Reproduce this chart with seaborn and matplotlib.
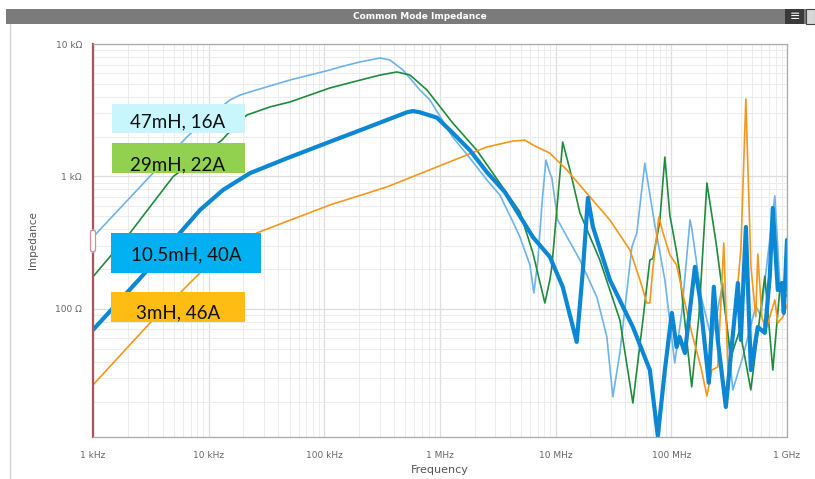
import matplotlib
matplotlib.use("Agg")
import matplotlib.pyplot as plt
import matplotlib.ticker as mticker
from matplotlib.patches import Rectangle, FancyBboxPatch
import seaborn as sns

# ── data (frequency in Hz, impedance in Ohm) ────────────────────────────────
freq_47 = [1.0e3, 2.55e3, 6.49e3, 9.86e3, 15.3e3, 18.7e3, 22.8e3, 50.4e3, 112e3, 136e3,
           203e3, 303e3, 369e3, 478e3, 670e3, 818e3, 1.29e6, 1.81e6, 2.54e6, 3.29e6,
           4.27e6, 4.91e6, 5.99e6, 6.48e6, 7.02e6, 7.60e6, 8.23e6, 8.91e6, 9.27e6, 10.4e6,
           16.2e6, 22.7e6, 27.7e6, 31.2e6, 35.9e6, 45.6e6, 50.3e6, 59.0e6, 72.0e6, 87.9e6,
           107e6, 123e6, 145e6, 150e6, 183e6, 224e6, 279e6, 340e6, 415e6, 537e6,
           594e6, 785e6, 866e6, 1.0e9]
imp_47 = [349, 834, 1990, 2770, 3780, 4120, 4350, 5350, 6370, 6700,
          7320, 7840, 7570, 6370, 4500, 3780, 1980, 1380, 942, 725,
          454, 349, 215, 132, 234, 610, 1330, 1060, 975, 470,
          234, 123, 61.5, 21.7, 46.5, 294, 375, 1260, 431, 166,
          39.1, 93.3, 470, 409, 119, 58.3, 157, 24.5, 43.4, 105,
          88.5, 713, 157, 139]

freq_29 = [1.0e3, 2.09e3, 4.94e3, 13.0e3, 16.9e3, 21.4e3, 33.9e3, 50.4e3, 112e3, 177e3,
           303e3, 424e3, 550e3, 771e3, 1.29e6, 2.08e6, 3.29e6, 4.91e6, 6.35e6, 8.07e6,
           8.91e6, 9.27e6, 11.5e6, 13.3e6, 16.2e6, 24.1e6, 35.9e6, 46.5e6, 56.8e6, 65.2e6,
           69.2e6, 79.4e6, 87.9e6, 97.1e6, 111e6, 118e6, 150e6, 173e6, 203e6, 243e6,
           296e6, 327e6, 391e6, 487e6, 643e6, 754e6, 866e6, 1.0e9]
imp_29 = [175, 375, 1000, 1880, 2410, 2910, 3350, 3650, 4660, 5170,
          5830, 6150, 5830, 4500, 2530, 1580, 890, 540, 265, 111,
          166, 208, 1820, 1120, 531, 234, 82.6, 19.5, 82.6, 234,
          240, 454, 1400, 512, 269, 190, 25.8, 87.1, 893, 321,
          87.1, 43.4, 69.5, 24.5, 177, 34.6, 139, 125]

freq_10 = [1.0e3, 2.55e3, 5.65e3, 8.41e3, 13.3e3, 22.8e3, 50.4e3, 112e3, 177e3,
           348e3, 517e3, 583e3, 670e3, 940e3, 1.29e6, 1.81e6, 2.54e6, 3.64e6, 4.71e6,
           6.35e6, 8.91e6, 11.5e6, 15.2e6, 17.2e6, 19.0e6, 21.0e6, 29.4e6, 46.5e6, 65.2e6,
           76.4e6, 87.9e6, 101e6, 111e6, 118e6, 131e6, 160e6, 176e6, 211e6, 233e6,
           252e6, 296e6, 376e6, 399e6, 441e6, 487e6, 559e6, 643e6, 710e6, 754e6,
           832e6, 902e6, 938e6, 1.0e9]
imp_10 = [69.5, 170, 375, 558, 791, 1060, 1400, 1830, 2130,
          2670, 3050, 3120, 3050, 2780, 2130, 1580, 1080, 762, 531,
          349, 247, 147, 56.4, 197, 688, 416, 166, 73.1, 34.6,
          11.0, 34.6, 93.3, 51.6, 61.5, 46.5, 208, 123, 27.7, 147,
          58.3, 18.2, 157, 58.3, 416, 34.6, 73.1, 66.0, 177, 578,
          139, 157, 93.3, 332]

freq_3 = [1.0e3, 3.11e3, 8.41e3, 15.3e3, 26.1e3, 112e3, 348e3, 940e3, 2.54e6, 4.27e6,
          5.42e6, 6.35e6, 8.91e6, 12.5e6, 19.8e6, 29.4e6, 43.8e6, 53.5e6, 61.4e6, 65.2e6,
          69.2e6, 78.0e6, 84.3e6, 97.1e6, 111e6, 123e6, 150e6, 180e6, 203e6, 224e6,
          252e6, 284e6, 308e6, 354e6, 399e6, 441e6, 487e6, 537e6, 559e6, 606e6,
          656e6, 785e6, 832e6, 920e6, 1.0e9]
imp_3 = [26.7, 78.4, 187, 271, 375, 610, 834, 1180, 1670, 1850,
         1880, 1730, 1500, 1120, 700, 470, 279, 166, 111, 111,
         201, 494, 381, 256, 215, 142, 66.0, 36.5, 22.0, 34.6,
         36.5, 315, 34.6, 87.1, 279, 3850, 211, 87.1, 260, 87.1,
         69.5, 117, 78.4, 87.1, 107]

x_ticks = [1e3, 1e4, 1e5, 1e6, 1e7, 1e8, 1e9]
x_labels = ["1 kHz", "10 kHz", "100 kHz", "1 MHz", "10 MHz", "100 MHz", "1 GHz"]
y_ticks = [100, 1000, 10000]
y_labels = ["100 Ω", "1 kΩ", "10 kΩ"]

labels = ["47mH, 16A", "29mH, 22A", "10.5mH, 40A", "3mH, 46A"]

# ── figure ──────────────────────────────────────────────────────────────────
sns.set_style("white")
plt.rcParams["font.family"] = ["DejaVu Sans"]

W, H = 815, 479
fig = plt.figure(figsize=(W / 100, H / 100), dpi=100)
ax = fig.add_axes([93 / W, 1 - 437 / H, (787 - 93) / W, (437 - 44) / H])

def px(x, y):
    return x / W, 1 - y / H

# series: light blue, green, orange, thick blue on top
line_kw = dict(ax=ax, estimator=None, solid_joinstyle="round", solid_capstyle="round")
sns.lineplot(x=freq_47, y=imp_47, color="#6db3ec", linewidth=1.2, **line_kw)
sns.lineplot(x=freq_29, y=imp_29, color="#1f8b3b", linewidth=1.2, **line_kw)
sns.lineplot(x=freq_3, y=imp_3, color="#f6961b", linewidth=1.2, **line_kw)
sns.lineplot(x=freq_10, y=imp_10, color="#0b87d4", linewidth=3.0, **line_kw)

ax.set_xscale("log")
ax.set_yscale("log")
ax.set_xlim(1e3, 1e9)
ax.set_ylim(10.8, 1e4)

ax.xaxis.set_major_locator(mticker.FixedLocator(x_ticks))
ax.xaxis.set_major_formatter(mticker.FixedFormatter(x_labels))
ax.yaxis.set_major_locator(mticker.FixedLocator(y_ticks))
ax.yaxis.set_major_formatter(mticker.FixedFormatter(y_labels))
ax.xaxis.set_minor_locator(mticker.LogLocator(base=10, subs=range(2, 10), numticks=20))
ax.yaxis.set_minor_locator(mticker.LogLocator(base=10, subs=range(2, 10), numticks=20))
ax.xaxis.set_minor_formatter(mticker.NullFormatter())
ax.yaxis.set_minor_formatter(mticker.NullFormatter())

ax.grid(which="major", color="#dedede", linewidth=0.9)
ax.grid(which="minor", color="#ececec", linewidth=0.7)
ax.set_axisbelow(True)

ax.tick_params(axis="x", which="major", direction="out", length=4, width=0.8,
               color="#aaaaaa", labelsize=6.5, labelcolor="#666666", pad=6)
ax.tick_params(axis="y", which="major", direction="out", length=5, width=0.8,
               color="#aaaaaa", labelsize=6.5, labelcolor="#666666", pad=3)
ax.tick_params(which="minor", length=0)

ax.set_xlabel("Frequency", fontsize=8, color="#555555", labelpad=4)
ax.set_ylabel("Impedance", fontsize=7.5, color="#555555", labelpad=12)

for side in ["top", "right", "bottom"]:
    ax.spines[side].set_color("#aaaaaa")
    ax.spines[side].set_linewidth(0.9)
ax.spines["left"].set_color("#b0505c")
ax.spines["left"].set_linewidth(1.6)

# small handle on the left axis
hx, hy = px(90.5, 252)
fig.patches.append(FancyBboxPatch((hx, hy), 5 / W, 22 / H, boxstyle="round,pad=0,rounding_size=0.004",
                                  transform=fig.transFigure, facecolor="white",
                                  edgecolor="#d98a92", linewidth=0.9, zorder=5))

# title bar
bx, by = px(6, 24)
fig.patches.append(Rectangle((bx, by), (W - 6) / W, 15 / H, transform=fig.transFigure,
                             facecolor="#7b7b7b", edgecolor="none"))
fig.text(420 / W, 1 - 16.5 / H, "Common Mode Impedance", color="white", fontsize=6.5,
         fontweight="bold", ha="center", va="center")
ix, iy = px(785, 24)
fig.patches.append(Rectangle((ix, iy), 19 / W, 15 / H, transform=fig.transFigure,
                             facecolor="#3a3a3a", edgecolor="none"))
fig.text(794.5 / W, 1 - 16.5 / H, "≡", color="white", fontsize=9, ha="center", va="center")
jx, jy = px(806, 24)
fig.patches.append(Rectangle((jx, jy), 9 / W, 15 / H, transform=fig.transFigure,
                             facecolor="#d8d8d8", edgecolor="#444444", linewidth=0.8))
# panel border
fig.add_artist(plt.Line2D([9.5 / W, 9.5 / W], [0, 1 - 24 / H], transform=fig.transFigure,
                          color="#d4d4d4", linewidth=1.0))

# label boxes
boxes = [
    (112, 104, 245, 133, "#c9f5fd", 178, 122),
    (112, 143, 245, 173, "#92d050", 178, 165),
    (111, 233, 261, 273, "#00b0f0", 186, 255),
    (111, 292, 245, 322, "#ffbc12", 178, 313),
]
for (x0, y0, x1, y1, c, tx, ty), lab in zip(boxes, labels):
    rx, ry = px(x0, y1)
    fig.patches.append(Rectangle((rx, ry), (x1 - x0) / W, (y1 - y0) / H,
                                 transform=fig.transFigure, facecolor=c,
                                 edgecolor="none", zorder=10))
    fig.text(tx / W, 1 - ty / H, lab, fontsize=13.5, family=["Lato", "DejaVu Sans"],
             color="#111111", ha="center", va="center", zorder=11)

fig.savefig("out.png", dpi=100)
